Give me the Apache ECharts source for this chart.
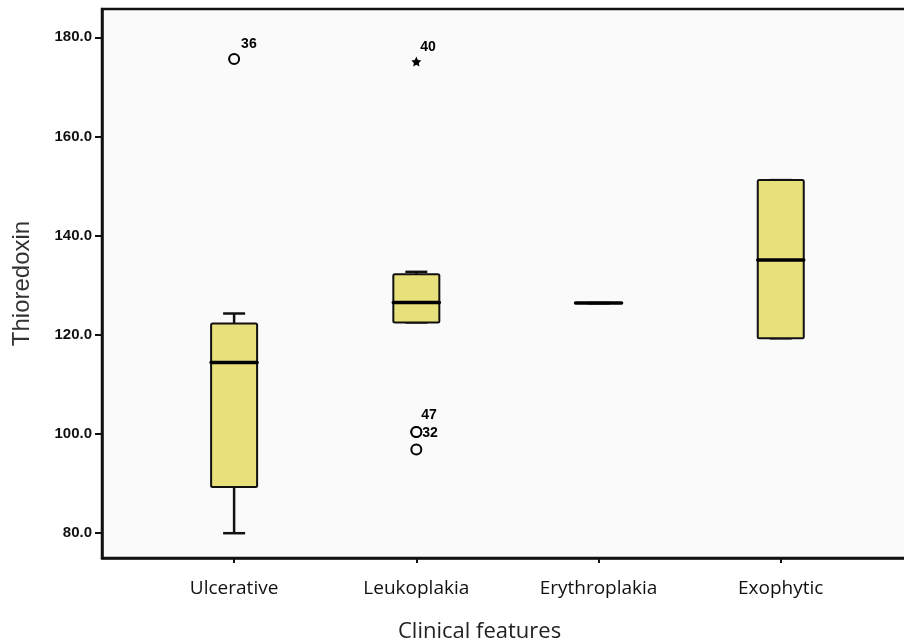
<!DOCTYPE html>
<html>
<head>
<meta charset="utf-8">
<script src="https://cdn.jsdelivr.net/npm/echarts@6/dist/echarts.min.js"></script>
<style>
  html, body { margin: 0; padding: 0; background: #fff; }
  #chart { width: 904px; height: 644px; }
</style>
</head>
<body>
<div id="chart"></div>
<script>
const categories = ['Ulcerative', 'Leukoplakia', 'Erythroplakia', 'Exophytic']
// [low whisker, Q1, median, Q3, high whisker]
const boxStats = [
  [80.0, 89.3, 114.4, 122.3, 124.3],
  [122.5, 122.5, 126.5, 132.2, 132.7],
  [126.4, 126.4, 126.4, 126.4, 126.4],
  [119.3, 119.3, 135.1, 151.2, 151.2]
]
// outliers: category index, value, case label
const outlierCat = [0, 1, 1, 1]
const outlierVal = [175.6, 100.4, 100.4, 96.9]
const outlierCase = ['36', '47', '32', '']
const extremeCat = [1]
const extremeVal = [175.1]
const extremeCase = ['40']
const yTicks = [80, 100, 120, 140, 160, 180]

const chart = echarts.init(document.getElementById('chart'))

// where each case number sits next to its point
const labelPos = { '36': [13, -16], '47': [11, -18], '32': [12, 0], '40': [9, -16] }

const boxData = boxStats.map((s, i) => [i + 1, ...s])
const outlierData = outlierVal.map((v, i) => ({
  value: [outlierCat[i] + 1, v],
  label: { formatter: outlierCase[i], position: labelPos[outlierCase[i]] || [0, 0] }
}))
const extremeData = extremeVal.map((v, i) => ({
  value: [extremeCat[i] + 1, v],
  label: { formatter: extremeCase[i], position: labelPos[extremeCase[i]] || [0, 0] }
}))

const renderBox = (params, api) => {
  const x = api.value(0)
  const lo = api.coord([x, api.value(1)])
  const q1 = api.coord([x, api.value(2)])
  const med = api.coord([x, api.value(3)])
  const q3 = api.coord([x, api.value(4)])
  const hi = api.coord([x, api.value(5)])
  const cx = lo[0]
  const bw = 46
  const cw = 22
  const line = { stroke: '#111', lineWidth: 2.5 }
  const children = [
    { type: 'line', shape: { x1: cx, y1: hi[1], x2: cx, y2: q3[1] }, style: line },
    { type: 'line', shape: { x1: cx, y1: lo[1], x2: cx, y2: q1[1] }, style: line },
    { type: 'line', shape: { x1: cx - cw / 2, y1: hi[1], x2: cx + cw / 2, y2: hi[1] }, style: line },
    { type: 'line', shape: { x1: cx - cw / 2, y1: lo[1], x2: cx + cw / 2, y2: lo[1] }, style: line },
    {
      type: 'rect',
      shape: { x: cx - bw / 2, y: q3[1], width: bw, height: q1[1] - q3[1], r: 1.5 },
      style: { fill: '#e8e07a', stroke: '#111', lineWidth: 2 }
    },
    {
      type: 'line',
      shape: { x1: cx - bw / 2, y1: med[1], x2: cx + bw / 2, y2: med[1] },
      style: { stroke: '#000', lineWidth: 3.5, lineCap: 'round' }
    }
  ]
  return { type: 'group', children }
}

const caseLabel = {
  show: true,
  color: '#000',
  fontSize: 14,
  fontWeight: 'bold',
  fontFamily: 'Liberation Sans'
}

chart.setOption({
  animation: false,
  backgroundColor: '#fff',
  grid: {
    left: 102, top: 9, width: 830, bottom: 86,
    outerBoundsMode: 'none',
    containLabel: false,
    show: true, backgroundColor: '#fafafa',
    borderColor: '#111', borderWidth: 2.5
  },
  xAxis: {
    type: 'value',
    min: 0.275,
    max: 4.83,
    splitLine: { show: false },
    axisLine: { show: true, onZero: false, lineStyle: { color: '#111', width: 2.5 } },
    axisTick: {
      show: true, customValues: categories.map((c, i) => i + 1),
      length: 5, lineStyle: { color: '#111', width: 2 }
    },
    axisLabel: {
      customValues: categories.map((c, i) => i + 1),
      formatter: v => categories[Math.round(v) - 1] || '',
      margin: 21, color: '#111', fontSize: 19, fontFamily: 'Open Sans'
    }
  },
  yAxis: {
    type: 'value',
    min: 75,
    max: 185.7,
    name: 'Thioredoxin',
    nameLocation: 'middle',
    nameGap: 68,
    nameTextStyle: { color: '#333', fontSize: 24, fontFamily: 'Liberation Sans' },
    splitLine: { show: false },
    axisLine: { show: true, lineStyle: { color: '#111', width: 2.5 } },
    axisTick: { show: true, customValues: yTicks, length: 7, lineStyle: { color: '#111', width: 2 } },
    axisLabel: {
      customValues: yTicks,
      formatter: v => v.toFixed(1),
      margin: 10, color: '#111', fontSize: 15, fontWeight: 'bold', fontFamily: 'Liberation Sans'
    }
  },
  graphic: [{
    type: 'text', left: 398, top: 621,
    style: { text: 'Clinical features', fill: '#222', fontSize: 22, fontFamily: 'Open Sans' }
  }],
  series: [
    {
      type: 'custom',
      renderItem: renderBox,
      encode: { x: 0, y: [1, 2, 3, 4, 5] },
      data: boxData,
      z: 2
    },
    {
      type: 'scatter',
      symbol: 'circle',
      symbolSize: 10,
      itemStyle: { color: '#fafafa', borderColor: '#000', borderWidth: 2, opacity: 1 },
      label: caseLabel,
      data: outlierData,
      z: 3
    },
    {
      type: 'scatter',
      symbol: 'path://M0,-10 L2.9,-4 L9.5,-3.1 L4.7,1.5 L5.9,8.1 L0,5 L-5.9,8.1 L-4.7,1.5 L-9.5,-3.1 L-2.9,-4 Z',
      symbolSize: 10,
      itemStyle: { color: '#000', opacity: 1 },
      label: caseLabel,
      data: extremeData,
      z: 3
    }
  ]
})
</script>
</body>
</html>
